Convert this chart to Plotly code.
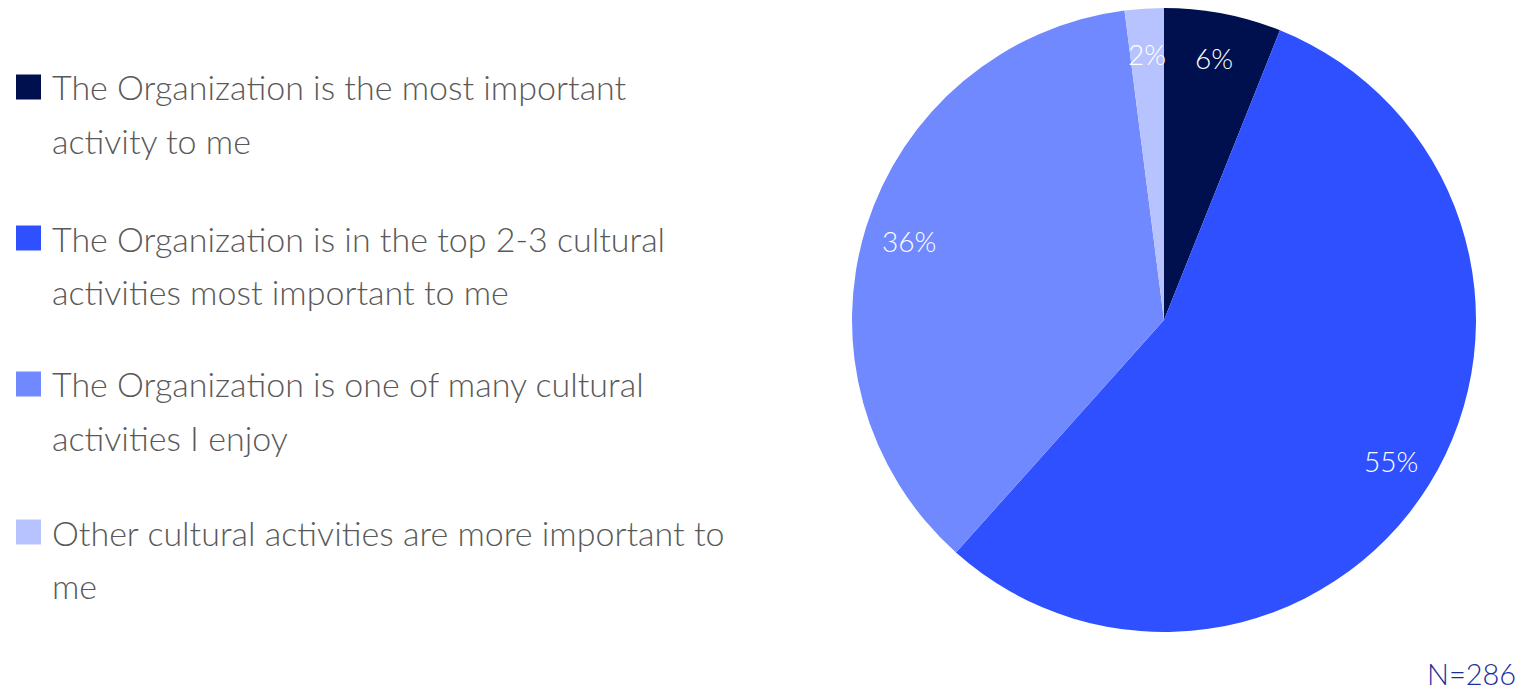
import numpy as np
import plotly.graph_objects as go

# Survey answers (share of respondents, %)
categories = [
    "The Organization is the most important<br>activity to me",
    "The Organization is in the top 2-3 cultural<br>activities most important to me",
    "The Organization is one of many cultural<br>activities I enjoy",
    "Other cultural activities are more important to<br>me",
]
shares = [6, 55, 36, 2]
colors = ["#00104F", "#2F50FF", "#7189FF", "#B7C3FF"]
sample_note = "N=286"

W, H = 1524, 691
FONT = "Lato"
TEXT_GREY = "#595959"

# pie placement (paper fractions)
dom_x = [852 / W, 1476 / W]
dom_y = [(H - 632) / H, (H - 8) / H]

fig = go.Figure(
    go.Pie(
        labels=[c.replace("<br>", " ") for c in categories],
        values=shares,
        marker=dict(colors=colors, line=dict(width=0)),
        sort=False,
        direction="clockwise",
        rotation=0,
        textinfo="none",
        hoverinfo="label+value",
        showlegend=False,
        domain=dict(x=dom_x, y=dom_y),
    )
)

# slice labels placed along each slice's bisector, near the rim
vals = np.array(shares, dtype=float)
frac = vals / vals.sum()
mid = (np.cumsum(frac) - frac / 2) * 2 * np.pi
cx = (dom_x[0] + dom_x[1]) / 2 * W
cy = (dom_y[0] + dom_y[1]) / 2 * H
R = min((dom_x[1] - dom_x[0]) * W, (dom_y[1] - dom_y[0]) * H) / 2
r_lab = 0.855 * R
annotations = []
for v, a in zip(shares, mid):
    annotations.append(dict(
        x=(cx + r_lab * np.sin(a)) / W,
        y=(cy + r_lab * np.cos(a)) / H,
        xref="paper", yref="paper",
        text=f"{v}%", showarrow=False,
        xanchor="center", yanchor="middle",
        font=dict(family=FONT, size=28, color="white", weight=300),
    ))

# legend drawn on the left: coloured square + wrapped label
first_line_y = [87, 238, 384, 532]
line_gap = 53
shapes = []
for cat, col, y0 in zip(categories, colors, first_line_y):
    shapes.append(dict(
        type="rect", xref="paper", yref="paper",
        x0=16 / W, x1=41 / W,
        y0=(H - (y0 + 12.5)) / H, y1=(H - (y0 - 12.5)) / H,
        fillcolor=col, line=dict(width=0),
    ))
    for k, line in enumerate(cat.split("<br>")):
        annotations.append(dict(
            x=50 / W, y=(H - (y0 + k * line_gap)) / H,
            xref="paper", yref="paper",
            text=line, showarrow=False,
            xanchor="left", yanchor="middle",
            font=dict(family=FONT, size=34, color=TEXT_GREY, weight=300),
        ))

annotations.append(dict(
    x=1518 / W, y=(H - 673) / H, xref="paper", yref="paper",
    text=sample_note, showarrow=False,
    xanchor="right", yanchor="middle",
    font=dict(family=FONT, size=29, color="#1B2D9B", weight=300),
))

fig.update_layout(
    width=W, height=H,
    margin=dict(l=0, r=0, t=0, b=0),
    paper_bgcolor="white",
    plot_bgcolor="white",
    annotations=annotations,
    shapes=shapes,
)

fig.write_html("out.html")
